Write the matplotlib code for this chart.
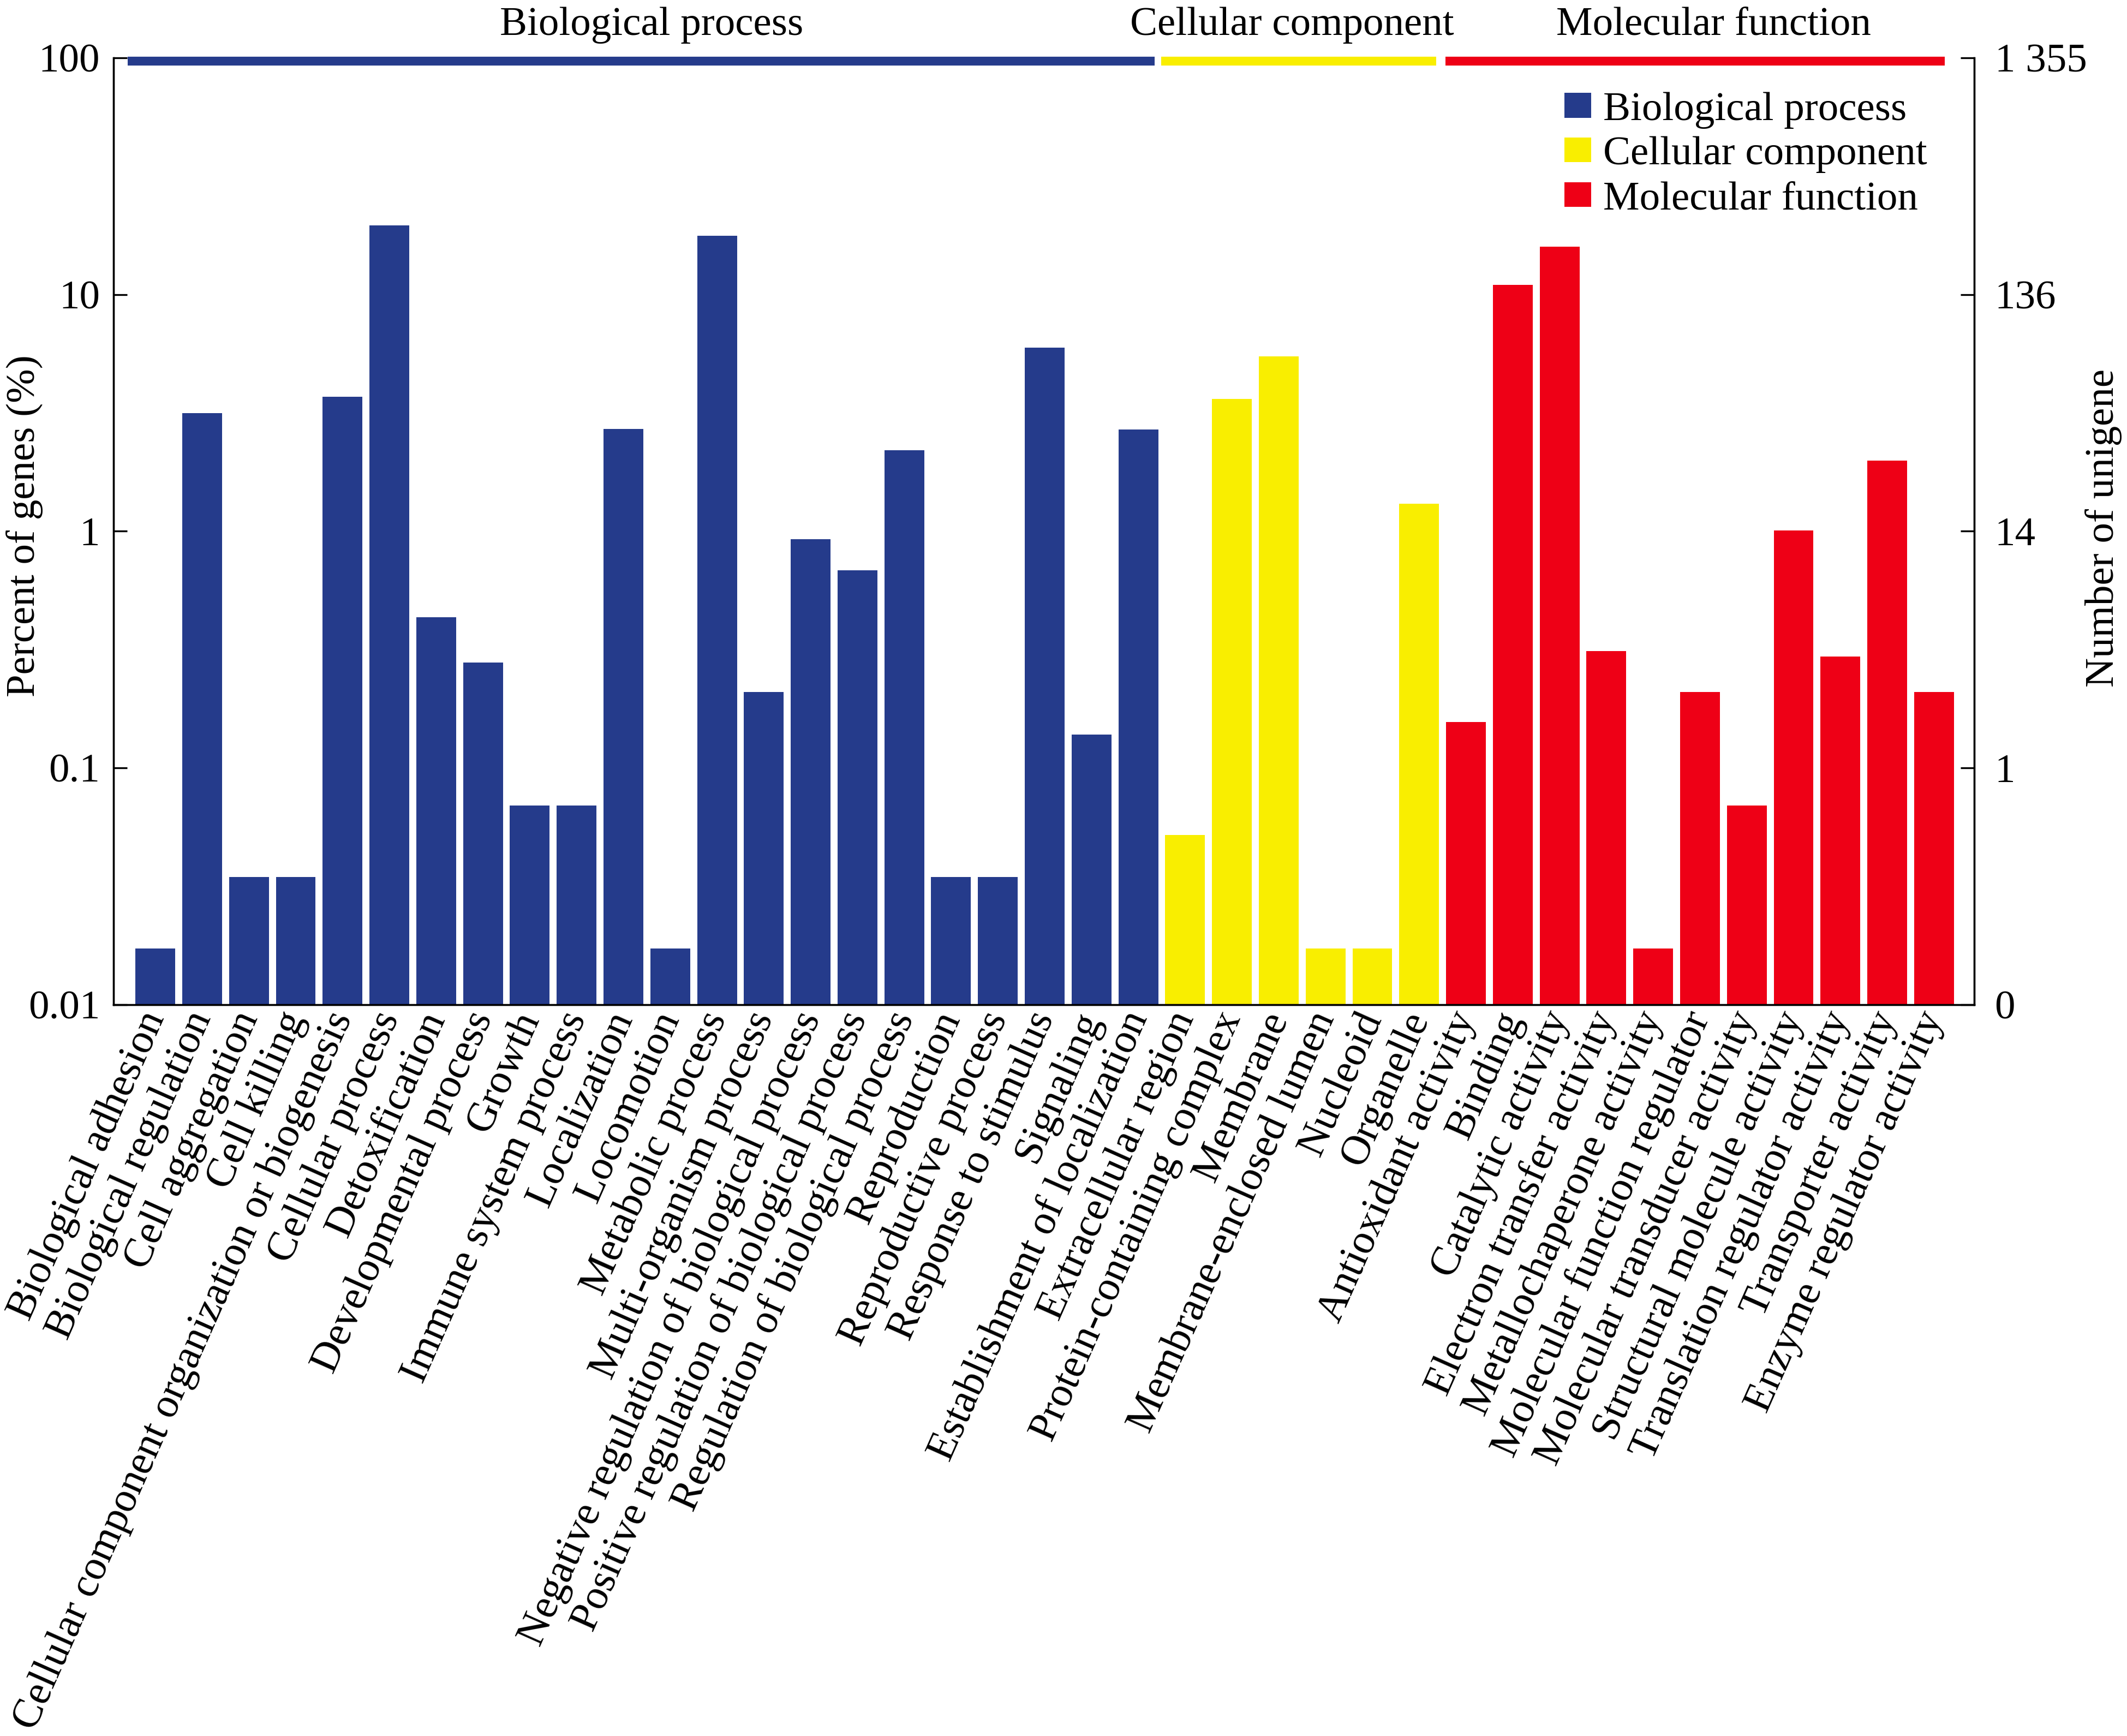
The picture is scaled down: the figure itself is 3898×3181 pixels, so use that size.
import numpy as np
import matplotlib
matplotlib.use("Agg")
import matplotlib.pyplot as plt
from matplotlib.patches import Patch
from matplotlib.transforms import blended_transform_factory

plt.rcParams["font.family"] = ["Liberation Serif", "DejaVu Serif"]
plt.rcParams["font.size"] = 18

# ---- data (percent of genes) ----------------------------------------------
bp_terms = [
    "Biological adhesion", "Biological regulation", "Cell aggregation",
    "Cell killing", "Cellular component organization or biogenesis",
    "Cellular process", "Detoxification", "Developmental process", "Growth",
    "Immune system process", "Localization", "Locomotion",
    "Metabolic process", "Multi-organism process",
    "Negative regulation of biological process",
    "Positive regulation of biological process",
    "Regulation of biological process", "Reproduction",
    "Reproductive process", "Response to stimulus", "Signaling",
    "Establishment of localization",
]
bp_pct = [0.0173, 3.16, 0.0346, 0.0346, 3.70, 19.6, 0.434, 0.279, 0.0692,
          0.0692, 2.70, 0.0173, 17.7, 0.209, 0.923, 0.682, 2.20, 0.0346,
          0.0346, 5.97, 0.138, 2.69]

cc_terms = ["Extracellular region", "Protein-containing complex", "Membrane",
            "Membrane-enclosed lumen", "Nucleoid", "Organelle"]
cc_pct = [0.0520, 3.63, 5.49, 0.0173, 0.0173, 1.31]

mf_terms = [
    "Antioxidant activity", "Binding", "Catalytic activity",
    "Electron transfer activity", "Metallochaperone activity",
    "Molecular function regulator", "Molecular transducer activity",
    "Structural molecule activity", "Translation regulator activity",
    "Transporter activity", "Enzyme regulator activity",
]
mf_pct = [0.156, 11.0, 15.9, 0.311, 0.0173, 0.209, 0.0692, 1.01, 0.295,
          1.99, 0.209]

groups = ["Biological process", "Cellular component", "Molecular function"]
left_ticks = [0.01, 0.1, 1, 10, 100]
left_tick_labels = ["0.01", "0.1", "1", "10", "100"]
right_tick_labels = ["0", "1", "14", "136", "1 355"]

# ---- styling ---------------------------------------------------------------
colors = ["#253B8B", "#F9EE00", "#EE0016"]
group_terms = [bp_terms, cc_terms, mf_terms]
group_vals = [bp_pct, cc_pct, mf_pct]

fig = plt.figure(figsize=(3898 / 300, 3181 / 300), dpi=300)
ax = fig.add_axes([0.0534, 0.4213, 0.9282 - 0.0534, 0.9667 - 0.4213])

labels, spans = [], []
pos = 0
for terms, vals, col in zip(group_terms, group_vals, colors):
    x = np.arange(pos, pos + len(terms))
    ax.bar(x, vals, width=0.85, color=col)
    spans.append((pos, pos + len(terms) - 1))
    labels += terms
    pos += len(terms)

ax.set_yscale("log")
ax.set_ylim(0.01, 100)
ax.set_xlim(-0.892, 38.86)
ax.set_yticks(left_ticks)
ax.set_yticklabels(left_tick_labels)
ax.minorticks_off()
ax.set_xticks(np.arange(len(labels)))
ax.set_xticklabels(labels, rotation=66, ha="right", va="center",
                   rotation_mode="anchor", fontsize=18.4)
ax.tick_params(axis="x", length=0, pad=4)
ax.tick_params(axis="y", direction="in", length=6, width=0.8, pad=6)
ax.spines["top"].set_visible(False)
for s in ("left", "right", "bottom"):
    ax.spines[s].set_linewidth(0.8)

# right axis: number of unigenes on the same log scale
ax2 = ax.twinx()
ax2.set_yscale("log")
ax2.set_ylim(ax.get_ylim())
ax2.set_yticks(left_ticks)
ax2.set_yticklabels(right_tick_labels)
ax2.minorticks_off()
ax2.tick_params(axis="y", direction="in", length=6, width=0.8, pad=9)
ax2.spines["top"].set_visible(False)
ax2.spines["right"].set_linewidth(0.8)

# group bars along the top with their titles
span_pad = [(-0.59, 0.35), (-0.51, 0.36), (-0.44, 0.23)]
title_x = [10.6, 24.29, 33.29]
title_tf = blended_transform_factory(ax.transData, fig.transFigure)
for (a, b), (pl, pr), col, name, tx in zip(spans, span_pad, colors, groups,
                                           title_x):
    ax.plot([a + pl, b + pr], [97, 97], color=col, lw=3.9,
            solid_capstyle="butt", clip_on=False, zorder=5)
    ax.text(tx, 0.980, name, transform=title_tf,
            ha="center", va="baseline", fontsize=18)

handles = [Patch(facecolor=c, edgecolor="none") for c in colors]
fig.legend(handles, groups, loc="upper left",
           bbox_to_anchor=(2867 / 3898, 1 - 168 / 3181), frameon=False,
           fontsize=18, borderpad=0, borderaxespad=0, handlelength=0.65,
           handleheight=0.55, handletextpad=0.3, labelspacing=0.19)

fig.text(45 / 3898, 1 - 964 / 3181, "Percent of genes (%)", rotation=90,
         ha="center", va="center", fontsize=18)
fig.text(3855 / 3898, 1 - 967 / 3181, "Number of unigene", rotation=90,
         ha="center", va="center", fontsize=18)

fig.savefig("out.png", dpi=300, facecolor="white")
